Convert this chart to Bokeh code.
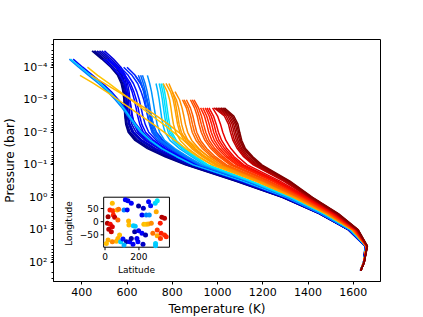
import json
import numpy as np
from bokeh.plotting import figure
from bokeh.models import Range1d, LinearScale, FixedTicker, CustomJSTickFormatter
from bokeh.embed import file_html
from bokeh.resources import INLINE
from bokeh.core.properties import value

N = None
# pressure levels, log10(bar)
log_p = [-4.5, -4.25, -4.0, -3.75, -3.5, -3.25, -3.0, -2.75, -2.5, -2.25, -2.0,
         -1.75, -1.5, -1.25, -1.0, -0.5, 0.0, 0.5, 1.0, 1.5, 2.0, 2.25]

# colour value of each profile (0 = navy ... 1 = dark red)
profile_c = [0.0, 0.01, 0.02, 0.04, 0.05, 0.06, 0.07, 0.08,
             0.10, 0.11, 0.12, 0.14, 0.15, 0.16, 0.18,
             0.25, 0.13, 0.32,
             0.21, 0.22, 0.24, 0.27,
             0.30, 0.33, 0.34, 0.35,
             0.71, 0.70, 0.72,
             0.73, 0.74, 0.745, 0.75, 0.76,
             0.79, 0.80, 0.81, 0.82, 0.83, 0.84,
             0.87, 0.875, 0.88, 0.895, 0.90, 0.91,
             0.94, 0.95, 0.96, 0.97, 0.98, 0.99, 1.00]

# temperature (K) of each profile at the pressure levels
profile_T = [
    [445, 488, 528, 558, 574, 582, 586, 588, 590, 594, 605, 635, 690, 768, 858, 1078, 1285, 1448, 1578, 1652, 1645, 1631],
    [452, 495, 535, 562, 577, 584, 588, 590, 592, 597, 609, 642, 698, 776, 862, 1082, 1287, 1449, 1579, 1652, 1645, 1631],
    [458, 500, 540, 567, 581, 588, 591, 593, 596, 601, 614, 648, 706, 784, 868, 1086, 1289, 1450, 1579, 1653, 1645, 1631],
    [468, 510, 549, 574, 586, 592, 596, 598, 601, 607, 622, 658, 716, 793, 875, 1092, 1292, 1451, 1580, 1653, 1645, 1632],
    [478, 520, 557, 580, 590, 596, 600, 603, 606, 613, 630, 668, 727, 803, 882, 1097, 1295, 1453, 1581, 1654, 1646, 1632],
    [N, 515, 553, 577, 588, 594, 598, 601, 604, 610, 626, 663, 722, 798, 879, 1095, 1294, 1452, 1581, 1654, 1646, 1632],
    [488, 530, 565, 586, 596, 602, 606, 609, 613, 621, 640, 680, 740, 814, 890, 1102, 1298, 1454, 1582, 1654, 1646, 1632],
    [500, 540, 573, 592, 602, 609, 613, 617, 622, 631, 652, 694, 753, 825, 898, 1107, 1301, 1455, 1583, 1655, 1646, 1632],
    [N, 495, 535, 568, 590, 603, 612, 618, 624, 632, 648, 685, 745, 818, 895, 1105, 1300, 1455, 1583, 1655, 1646, 1632],
    [N, 520, 560, 592, 615, 630, 641, 649, 656, 665, 682, 718, 772, 838, 907, 1112, 1303, 1457, 1584, 1655, 1646, 1632],
    [N, 510, 552, 585, 608, 622, 632, 640, 647, 656, 672, 708, 765, 832, 903, 1110, 1302, 1456, 1584, 1655, 1646, 1632],
    [N, N, 570, 605, 628, 643, 654, 662, 670, 680, 696, 730, 782, 845, 912, 1115, 1305, 1458, 1584, 1655, 1646, 1632],
    [N, N, 600, 636, 660, 676, 687, 695, 702, 711, 726, 756, 804, 862, 924, 1122, 1308, 1459, 1585, 1656, 1646, 1632],
    [N, N, 585, 622, 647, 662, 674, 683, 691, 701, 716, 748, 797, 856, 920, 1120, 1307, 1459, 1585, 1656, 1646, 1632],
    [N, N, N, 635, 660, 676, 688, 697, 706, 716, 730, 760, 806, 864, 926, 1124, 1309, 1460, 1585, 1656, 1646, 1632],
    [N, 345, 386, 430, 474, 514, 548, 578, 604, 630, 660, 700, 752, 818, 892, 1110, 1302, 1456, 1584, 1655, 1646, 1632],
    [N, 362, 404, 448, 492, 530, 562, 590, 614, 640, 668, 706, 757, 821, 894, 1108, 1300, 1455, 1583, 1655, 1646, 1632],
    [N, 350, 394, 440, 484, 522, 556, 585, 610, 636, 665, 704, 755, 820, 893, 1112, 1304, 1457, 1584, 1655, 1646, 1632],
    [N, N, N, 650, 664, 673, 680, 686, 692, 699, 710, 736, 790, 850, 918, 1128, 1312, 1462, 1586, 1656, 1646, 1632],
    [N, N, N, 660, 672, 681, 688, 694, 700, 707, 718, 744, 796, 855, 922, 1130, 1313, 1463, 1587, 1656, 1646, 1632],
    [N, N, N, 668, 680, 689, 696, 702, 708, 715, 726, 750, 800, 858, 925, 1132, 1314, 1464, 1587, 1656, 1646, 1632],
    [N, N, N, 690, 700, 708, 714, 720, 726, 733, 744, 766, 812, 868, 932, 1136, 1316, 1465, 1588, 1656, 1646, 1632],
    [N, N, N, N, 728, 736, 742, 747, 752, 758, 768, 790, 832, 885, 942, 1140, 1320, 1468, 1590, 1657, 1646, 1632],
    [N, N, N, N, 742, 750, 756, 761, 766, 772, 782, 803, 843, 894, 950, 1145, 1323, 1470, 1591, 1657, 1646, 1632],
    [N, N, N, N, 750, 758, 764, 769, 774, 780, 790, 811, 849, 898, 954, 1147, 1324, 1470, 1591, 1657, 1646, 1632],
    [N, N, N, N, 758, 766, 772, 777, 782, 788, 798, 818, 855, 903, 958, 1150, 1326, 1471, 1592, 1657, 1646, 1632],
    [N, N, N, 392, 452, 508, 560, 612, 664, 715, 765, 812, 860, 912, 975, 1170, 1338, 1478, 1596, 1658, 1646, 1632],
    [N, N, 425, 470, 520, 568, 616, 664, 712, 760, 806, 850, 895, 945, 1000, 1180, 1342, 1480, 1597, 1658, 1646, 1632],
    [N, N, N, 440, 500, 560, 620, 678, 732, 782, 828, 870, 912, 960, 1012, 1186, 1345, 1481, 1597, 1658, 1646, 1632],
    [N, N, N, N, 760, 778, 788, 794, 799, 805, 815, 835, 870, 918, 978, 1168, 1335, 1478, 1596, 1658, 1646, 1632],
    [N, N, N, N, 772, 792, 804, 811, 817, 823, 833, 852, 886, 932, 990, 1176, 1340, 1480, 1597, 1658, 1646, 1632],
    [N, N, N, N, 785, 800, 811, 818, 824, 830, 840, 860, 893, 938, 995, 1180, 1342, 1481, 1597, 1658, 1646, 1632],
    [N, N, N, N, N, 800, 818, 828, 835, 841, 851, 869, 901, 945, 1001, 1184, 1345, 1483, 1598, 1658, 1646, 1632],
    [N, N, N, N, N, 812, 832, 843, 851, 858, 868, 886, 917, 959, 1013, 1192, 1350, 1486, 1599, 1658, 1646, 1632],
    [N, N, N, N, N, N, 845, 862, 872, 879, 888, 905, 933, 972, 1024, 1200, 1356, 1490, 1601, 1659, 1647, 1632],
    [N, N, N, N, N, N, 852, 870, 881, 889, 898, 915, 942, 980, 1032, 1205, 1359, 1492, 1602, 1659, 1647, 1632],
    [N, N, N, N, N, N, 862, 880, 891, 899, 908, 925, 952, 990, 1040, 1210, 1362, 1494, 1603, 1659, 1647, 1632],
    [N, N, N, N, N, N, 880, 898, 910, 918, 928, 944, 970, 1007, 1055, 1220, 1368, 1497, 1604, 1659, 1647, 1632],
    [N, N, N, N, N, N, 888, 907, 919, 928, 938, 953, 979, 1015, 1062, 1225, 1371, 1498, 1605, 1659, 1647, 1632],
    [N, N, N, N, N, N, 896, 916, 929, 938, 948, 963, 988, 1024, 1070, 1230, 1374, 1500, 1606, 1659, 1647, 1632],
    [N, N, N, N, N, N, N, 925, 942, 952, 961, 975, 1000, 1036, 1084, 1242, 1380, 1506, 1609, 1660, 1647, 1633],
    [N, N, N, N, N, N, N, 935, 952, 963, 972, 986, 1010, 1045, 1092, 1248, 1383, 1508, 1610, 1660, 1647, 1633],
    [N, N, N, N, N, N, N, 945, 963, 974, 983, 997, 1021, 1055, 1100, 1254, 1387, 1510, 1611, 1660, 1647, 1633],
    [N, N, N, N, N, N, N, 953, 972, 984, 993, 1007, 1031, 1064, 1108, 1260, 1390, 1512, 1611, 1660, 1647, 1633],
    [N, N, N, N, N, N, N, 962, 982, 994, 1004, 1018, 1041, 1073, 1116, 1265, 1393, 1514, 1612, 1660, 1647, 1633],
    [N, N, N, N, N, N, N, 978, 1000, 1013, 1023, 1037, 1059, 1090, 1131, 1276, 1399, 1518, 1614, 1660, 1647, 1633],
    [N, N, N, N, N, N, N, 985, 1030, 1048, 1057, 1068, 1087, 1115, 1158, 1292, 1405, 1522, 1616, 1661, 1648, 1633],
    [N, N, N, N, N, N, N, 992, 1038, 1056, 1065, 1075, 1094, 1121, 1164, 1297, 1407, 1524, 1617, 1661, 1648, 1633],
    [N, N, N, N, N, N, N, 1000, 1046, 1064, 1073, 1083, 1101, 1128, 1170, 1302, 1410, 1526, 1618, 1661, 1648, 1633],
    [N, N, N, N, N, N, N, 1008, 1053, 1071, 1080, 1090, 1107, 1136, 1177, 1307, 1412, 1528, 1619, 1661, 1648, 1633],
    [N, N, N, N, N, N, N, 1015, 1060, 1078, 1087, 1097, 1114, 1145, 1184, 1312, 1415, 1530, 1620, 1662, 1648, 1633],
    [N, N, N, N, N, N, N, 1022, 1066, 1084, 1093, 1102, 1118, 1150, 1190, 1316, 1417, 1532, 1621, 1662, 1648, 1633],
    [N, N, N, N, N, N, N, 1030, 1072, 1090, 1098, 1107, 1123, 1156, 1196, 1320, 1420, 1534, 1622, 1662, 1648, 1633],
]

# inset scatter
inset_lat = [43, 120, 135, 155, 198, 226, 257, 269, 296, 308, 112, 131, 29, 47, 71, 80, 18, 49, 57, 14,
             31, 22, 37, 43, 76, 139, 141, 167, 178, 218, 243, 261, 302, 335, 351, 326, 229, 243, 255, 273,
             175, 198, 218, 239, 282, 308, 308, 331, 351, 361, 86, 76, 67, 43, 18, 8, 92, 106, 126, 145,
             165, 194, 224, 188, 155, 298, 298, 327, 112]
inset_lon = [70, 83, 80, 70, 60, 51, 76, 61, 70, 80, 44, 44, 44, 42, 44, 47, 19, 25, 17, -6,
             -10, -29, -38, -19, 6, 3, -13, -15, -17, 25, 25, 25, 38, 17, 13, -6, -10, -10, -9, -6,
             -38, -34, -44, -51, -44, -32, -53, -44, -51, -57, -51, -64, -74, -76, -70, -83, -76, -66, -76, -76,
             -86, -76, -86, -64, -64, -83, -91, -64, -89]
inset_c = [0.71, 0.12, 0.1, 0.12, 0.03, 0.06, 0.13, 0.15, 0.33, 0.35, 0.25, 0.1, 0.88, 0.86, 0.72, 0.79, 0.97, 0.87, 0.94, 0.96,
           0.9, 0.95, 0.94, 0.92, 0.8, 0.72, 0.71, 0.33, 0.32, 0.1, 0.25, 0.27, 0.73, 0.96, 0.95, 0.88, 0.71, 0.7, 0.72, 0.76,
           0.03, 0.1, 0.12, 0.04, 0.79, 0.85, 0.73, 0.88, 0.86, 0.87, 0.71, 0.72, 0.72, 0.77, 0.73, 0.71, 0.33, 0.14, 0.04, 0.12,
           0.1, 0.13, 0.06, 0.1, 0.03, 0.33, 0.32, 0.85, 0.3]

x_ticks = [400, 600, 800, 1000, 1200, 1400, 1600]
y_tick_exp = [-4, -3, -2, -1, 0, 1, 2]
inset_x_ticks = [0, 200]
inset_y_ticks = [-50, 0, 50]


def jet(c):
    r = np.interp(c, [0, 0.35, 0.66, 0.89, 1], [0, 0, 1, 1, 0.5])
    g = np.interp(c, [0, 0.125, 0.375, 0.64, 0.91, 1], [0, 0, 1, 1, 0, 0])
    b = np.interp(c, [0, 0.11, 0.34, 0.65, 1], [0.5, 1, 1, 0, 0])
    return "#%02x%02x%02x" % (int(round(r * 255)), int(round(g * 255)), int(round(b * 255)))


FONT = "DejaVu Sans"
FW, FH = 327, 242

p = figure(frame_width=FW, frame_height=FH,
           x_range=Range1d(275, 1720), y_range=Range1d(10 ** 2.584, 10 ** -4.851),
           y_axis_type="log", output_backend="svg", toolbar_location=None,
           min_border_top=39, min_border_right=14, min_border_left=4, min_border_bottom=2,
           background_fill_color="white", border_fill_color="white")
p.grid.visible = False
p.outline_line_color = "black"
p.outline_line_width = 1

# profiles
xs, ys, cols = [], [], []
for T, c in zip(profile_T, profile_c):
    idx = [i for i, t in enumerate(T) if t is not None]
    xs.append([T[i] for i in idx])
    ys.append([10 ** log_p[i] for i in idx])
    cols.append(jet(c))
p.multi_line(xs, ys, line_color=cols, line_width=1.5, line_join="round")

# axes
p.xaxis.ticker = FixedTicker(ticks=x_ticks)
minor = [m * 10.0 ** e for e in range(-5, 3) for m in range(2, 10)]
p.yaxis.ticker = FixedTicker(ticks=[10.0 ** e for e in y_tick_exp], minor_ticks=minor)
sup = {"-": "\u207b", "0": "\u2070", "1": "\u00b9", "2": "\u00b2", "3": "\u00b3",
       "4": "\u2074", "5": "\u2075", "6": "\u2076", "7": "\u2077", "8": "\u2078", "9": "\u2079"}
p.yaxis.formatter = CustomJSTickFormatter(code="""
const sup = %s;
const e = Math.round(Math.log10(tick));
return '10' + String(e).split('').map(ch => sup[ch]).join('');
""" % json.dumps(sup))
p.xaxis.axis_label = "Temperature (K)"
p.yaxis.axis_label = "Pressure (bar)"
for ax in (p.xaxis[0], p.yaxis[0]):
    ax.axis_line_color = "black"
    ax.major_tick_line_color = "black"
    ax.minor_tick_line_color = "black"
    ax.major_tick_out = 3
    ax.major_tick_in = 0
    ax.minor_tick_out = 2
    ax.minor_tick_in = 0
    ax.major_label_text_font_size = "11px"
    ax.major_label_text_color = "black"
    ax.major_label_text_font = FONT
    ax.major_label_standoff = 3
    ax.axis_label_text_font_size = "12px"
    ax.axis_label_text_font_style = "normal"
    ax.axis_label_text_font = FONT
    ax.axis_label_text_color = "black"
    ax.axis_label_standoff = 3

# inset drawn on extra ranges mapped onto a sub-box of the frame
box_fx = (0.1534, 0.3546)
box_fy = (0.1417, 0.3483)
ix_lo, ix_hi = -8.0, 380.0
iy_lo, iy_hi = -97.0, 93.0
ux = (ix_hi - ix_lo) / ((box_fx[1] - box_fx[0]) * FW)
uy = (iy_hi - iy_lo) / ((box_fy[1] - box_fy[0]) * FH)
xs0 = ix_lo - box_fx[0] * FW * ux
ys0 = iy_lo - box_fy[0] * FH * uy
p.extra_x_ranges = {"ix": Range1d(xs0, xs0 + FW * ux)}
p.extra_y_ranges = {"iy": Range1d(ys0, ys0 + FH * uy)}
p.extra_x_scales = {"ix": LinearScale()}
p.extra_y_scales = {"iy": LinearScale()}
kw = dict(x_range_name="ix", y_range_name="iy")

p.quad(left=[ix_lo], right=[ix_hi], bottom=[iy_lo], top=[iy_hi],
       fill_color="white", line_color="black", line_width=1, **kw)
p.scatter(inset_lat, inset_lon, size=5, color=[jet(c) for c in inset_c], line_width=0, **kw)

tl = 3
p.segment(x0=inset_x_ticks, y0=[iy_lo] * len(inset_x_ticks), x1=inset_x_ticks,
          y1=[iy_lo - tl * uy] * len(inset_x_ticks), line_color="black", line_width=1, **kw)
p.segment(x0=[ix_lo] * len(inset_y_ticks), y0=inset_y_ticks, x1=[ix_lo - tl * ux] * len(inset_y_ticks),
          y1=inset_y_ticks, line_color="black", line_width=1, **kw)


def fmt(v):
    return ("\u2212%d" % -v) if v < 0 else "%d" % v


p.text(x=inset_x_ticks, y=[iy_lo] * len(inset_x_ticks), text=[fmt(v) for v in inset_x_ticks],
       y_offset=9.5, text_align="center", text_baseline="middle", text_font_size="9px",
       text_font=value(FONT), text_color="black", **kw)
p.text(x=[ix_lo] * len(inset_y_ticks), y=inset_y_ticks, text=[fmt(v) for v in inset_y_ticks],
       x_offset=-5, text_align="right", text_baseline="middle", text_font_size="9px",
       text_font=value(FONT), text_color="black", **kw)
p.text(x=[(ix_lo + ix_hi) / 2], y=[iy_lo], text=["Latitude"], y_offset=22.5,
       text_align="center", text_baseline="middle", text_font_size="9px",
       text_font=value(FONT), text_color="black", **kw)
p.text(x=[ix_lo], y=[(iy_lo + iy_hi) / 2 - 5], text=["Longitude"], x_offset=-35, angle=np.pi / 2,
       text_align="center", text_baseline="middle", text_font_size="9px",
       text_font=value(FONT), text_color="black", **kw)

open("out.html", "w").write(file_html(p, INLINE))
